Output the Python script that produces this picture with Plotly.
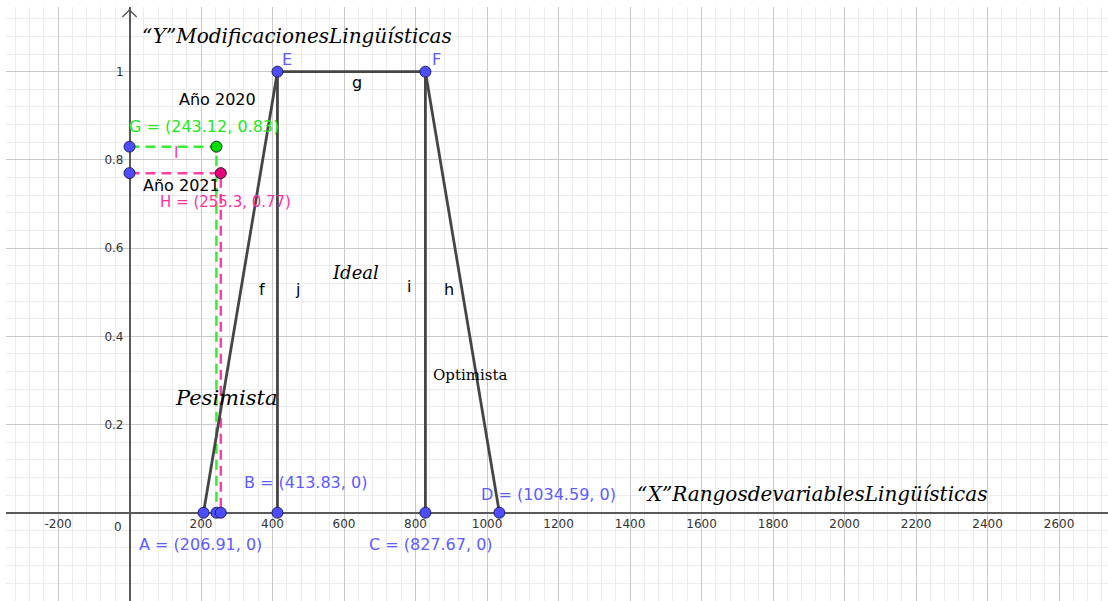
import plotly.graph_objects as go

# ---------------- data ----------------
point_names = ["A", "B", "C", "D", "E", "F"]
point_x = [206.91, 413.83, 827.67, 1034.59, 413.83, 827.67]
point_y = [0, 0, 0, 0, 1, 1]

seg_names = ["f", "g", "h", "j", "i"]
seg_from = ["A", "E", "F", "B", "C"]
seg_to = ["E", "F", "D", "E", "F"]

g_point = (243.12, 0.83)   # Año 2020
h_point = (255.3, 0.77)    # Año 2021

x_ticks = [-200, 200, 400, 600, 800, 1000, 1200, 1400, 1600, 1800, 2000, 2200, 2400, 2600]
y_ticks = [0.2, 0.4, 0.6, 0.8, 1]

x_range = [-345.5, 2737]
y_range = [-0.2002, 1.1467]

# ---------------- style ----------------
BLUE = "#4d4dff"
BLUE_TXT = "#5c5cff"
GREEN = "#33ee33"
GREEN_TXT = "#22e822"
PINK = "#ff3fa8"
PINK_TXT = "#ff2f9f"
SEG = "#454545"
SANS = "DejaVu Sans"
SERIF = "DejaVu Serif"

P = dict(zip(point_names, zip(point_x, point_y)))

fig = go.Figure()

# dashed guides
gx, gy = g_point
hx, hy = h_point
fig.add_trace(go.Scatter(x=[0, gx, gx], y=[gy, gy, 0], mode="lines",
                         line=dict(color=GREEN, width=2.5, dash="10px,6px"), hoverinfo="skip"))
fig.add_trace(go.Scatter(x=[0, hx, hx], y=[hy, hy, 0], mode="lines",
                         line=dict(color=PINK, width=2.5, dash="10px,6px"), hoverinfo="skip"))

# segments
for n, a, b in zip(seg_names, seg_from, seg_to):
    fig.add_trace(go.Scatter(x=[P[a][0], P[b][0]], y=[P[a][1], P[b][1]], mode="lines",
                             line=dict(color=SEG, width=2.8), hoverinfo="skip", name=n))

# y-axis arrow head
fig.add_trace(go.Scatter(x=[-20, 0, 20], y=[1.124, 1.14, 1.124], mode="lines",
                         line=dict(color="#555555", width=1.3), hoverinfo="skip"))

# blue points (main + projections)
bx = point_x + [gx, hx, 0, 0]
by = point_y + [0, 0, gy, hy]
fig.add_trace(go.Scatter(x=bx, y=by, mode="markers",
                         marker=dict(size=11, color=BLUE, line=dict(color="#1e1e5a", width=1)),
                         hoverinfo="skip"))
fig.add_trace(go.Scatter(x=[gx], y=[gy], mode="markers",
                         marker=dict(size=11, color="#00e000", line=dict(color="#1a1a1a", width=1))))
fig.add_trace(go.Scatter(x=[hx], y=[hy], mode="markers",
                         marker=dict(size=11, color="#e6007e", line=dict(color="#1a1a1a", width=1))))

ann = []


def lab(x, y, text, color="#000000", size=16, family=SANS, xs=0, ys=0, xanchor="center", yanchor="middle"):
    ann.append(dict(x=x, y=y, text=text, showarrow=False, xshift=xs, yshift=ys,
                    xanchor=xanchor, yanchor=yanchor,
                    font=dict(family=family, size=size, color=color)))


# point labels
offsets = {"A": (-3, -32), "B": (28, 30), "C": (6, -32), "D": (49, 18), "E": (10, 12), "F": (11, 12)}
for n, x, y in zip(point_names, point_x, point_y):
    t = n if y == 1 else f"{n} = ({x:g}, {y:g})"
    lab(x, y, t, BLUE_TXT, 16, xs=offsets[n][0], ys=offsets[n][1])

lab(gx, gy, f"G = ({gx:g}, {gy:g})", GREEN_TXT, 16, xs=-12, ys=20)
lab(hx, hy, f"H = ({hx:g}, {hy:g})", PINK_TXT, 15, xs=5, ys=-29)
lab(130, 0.816, "l", PINK_TXT, 16)

lab(244.8, 0.936, "Año 2020", "#000000", 16)
lab(144, 0.741, "Año 2021", "#000000", 16)

# segment labels
lab(636, 0.976, "g", "#000000", 16)
lab(370.6, 0.507, "f", "#000000", 16)
lab(468.5, 0.507, "j", "#000000", 16)
lab(781.8, 0.512, "i", "#000000", 16)
lab(893.7, 0.507, "h", "#000000", 16)

lab(630.8, 0.544, "<i>Ideal</i>", "#000000", 18, SERIF)
lab(270, 0.260, "<i>Pesimista</i>", "#000000", 21, SERIF)
lab(952.4, 0.312, "Optimista", "#000000", 15, SERIF)

lab(468.5, 1.081, "<i>“Y”ModificacionesLingüísticas</i>", "#000000", 20, SERIF)
lab(1909, 0.0425, "<i>“X”RangosdevariablesLingüísticas</i>", "#000000", 20, SERIF)

# origin label
lab(0, 0, "0", "#333333", 12, xs=-6, ys=-5, xanchor="right", yanchor="top")

xpos = (0 - y_range[0]) / (y_range[1] - y_range[0])
ypos = (0 - x_range[0]) / (x_range[1] - x_range[0])

fig.update_layout(
    width=1108, height=601,
    margin=dict(l=6, r=0, t=7, b=0),
    plot_bgcolor="white", paper_bgcolor="white",
    showlegend=False,
    annotations=ann,
    xaxis=dict(range=x_range, anchor="free", position=xpos,
               tickmode="array", tickvals=x_ticks, ticktext=[str(v) for v in x_ticks],
               ticks="", showline=False, ticklabelstandoff=2,
               showgrid=True, gridcolor="#c9c9c9", gridwidth=1,
               zeroline=True, zerolinecolor="#5a5a5a", zerolinewidth=1.5,
               minor=dict(tickmode="linear", tick0=0, dtick=40, showgrid=True,
                          gridcolor="#ececec", gridwidth=1),
               tickfont=dict(family=SANS, size=12, color="#333333")),
    yaxis=dict(range=y_range, anchor="free", position=ypos,
               tickmode="array", tickvals=y_ticks, ticktext=[f"{v:g}" for v in y_ticks],
               ticks="", showline=False, ticklabelstandoff=6,
               showgrid=True, gridcolor="#c9c9c9", gridwidth=1,
               zeroline=True, zerolinecolor="#5a5a5a", zerolinewidth=1.5,
               minor=dict(tickmode="linear", tick0=0, dtick=0.04, showgrid=True,
                          gridcolor="#ececec", gridwidth=1),
               tickfont=dict(family=SANS, size=12, color="#333333")),
)

fig.write_html("out.html", post_script="document.body.style.margin='0';",
               config={"displayModeBar": False})
